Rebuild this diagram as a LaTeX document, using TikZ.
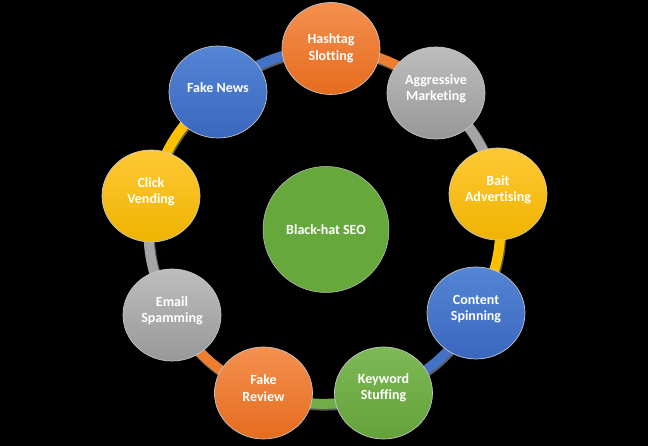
\documentclass[tikz,border=0pt]{standalone}
\usepackage{fontspec}
\setmainfont{Carlito}[Ligatures=NoCommon]
\usetikzlibrary{shapes.geometric}
\definecolor{orT}{HTML}{F4904F}\definecolor{orB}{HTML}{E56C1E}
\definecolor{grT}{HTML}{BDBDBD}\definecolor{grB}{HTML}{989898}
\definecolor{yeT}{HTML}{FFC935}\definecolor{yeB}{HTML}{EFB300}
\definecolor{blT}{HTML}{5585D5}\definecolor{blB}{HTML}{3A67BE}
\definecolor{gnT}{HTML}{7DB955}\definecolor{gnB}{HTML}{64A239}
\definecolor{gnC}{HTML}{66A83C}
\definecolor{orC}{HTML}{ED7D31}\definecolor{grC}{HTML}{A5A5A5}
\definecolor{yeC}{HTML}{FFC000}\definecolor{blC}{HTML}{4472C4}
\definecolor{gnL}{HTML}{70AD47}
\definecolor{rim}{HTML}{C4C4C4}
\definecolor{shd}{HTML}{5A5A5A}
\pgfdeclarelayer{bg}\pgfdeclarelayer{conn}
\pgfsetlayers{bg,conn,main}
\tikzset{
  bub/.style 2 args={ellipse, minimum width=98pt, minimum height=92pt, inner sep=0pt,
    draw=rim, line width=0.7pt, top color=#1, bottom color=#2},
  txt/.style={text=white, font=\fontsize{14}{16.5}\selectfont\bfseries, align=center},
  conn/.style={line width=10pt, draw=#1},
  connshd/.style={line width=11pt, draw=shd},
}
\begin{document}
\begin{tikzpicture}[x=1pt,y=1pt]
\begin{pgfonlayer}{bg}
\fill[black] (0,0) rectangle (648,446);
\end{pgfonlayer}
\useasboundingbox (0,0) rectangle (648,446);

\node[circle, minimum size=126pt, inner sep=0pt, fill=gnC, draw=rim, line width=0.5pt,
  label={[txt]center:Black-hat SEO}] (seo) at (326,216.5) {};

\node[bub={orT}{orB}, label={[txt]center:Hashtag\\Slotting}] (hash) at (331,397.5) {};
\node[bub={grT}{grB}, label={[txt,yshift=4pt]center:Aggressive\\Marketing}] (aggr) at (436,353) {};
\node[bub={yeT}{yeB}, label={[txt,yshift=4pt]center:Bait\\Advertising}] (bait) at (498,252) {};
\node[bub={blT}{blB}, label={[txt,yshift=4pt]center:Content\\Spinning}] (cont) at (476,133) {};
\node[bub={gnT}{gnB}, label={[txt,yshift=5pt]center:Keyword\\Stuffing}] (key) at (383.5,53) {};
\node[bub={orT}{orB}, label={[txt,yshift=5pt]center:Fake\\Review}] (frev) at (263.5,53) {};
\node[bub={grT}{grB}, label={[txt,yshift=4pt]center:Email\\Spamming}] (email) at (172,131) {};
\node[bub={yeT}{yeB}, label={[txt,yshift=4pt]center:Click\\Vending}] (click) at (151,250) {};
\node[bub={blT}{blB}, label={[txt,yshift=4pt]center:Fake News}] (fnews) at (218,354) {};

\begin{pgfonlayer}{conn}
\foreach \a/\b/\c in {fnews/hash/blC, hash/aggr/orC, aggr/bait/grC, bait/cont/yeC,
  cont/key/blC, key/frev/gnL, frev/email/orC, email/click/grC, click/fnews/yeC}{
  \draw[connshd, transform canvas={xshift=0.8pt,yshift=-1.2pt}] (\a.center) to[bend left=18] (\b.center);
  \draw[conn=\c] (\a.center) to[bend left=18] (\b.center);
}
\end{pgfonlayer}
\end{tikzpicture}
\end{document}
